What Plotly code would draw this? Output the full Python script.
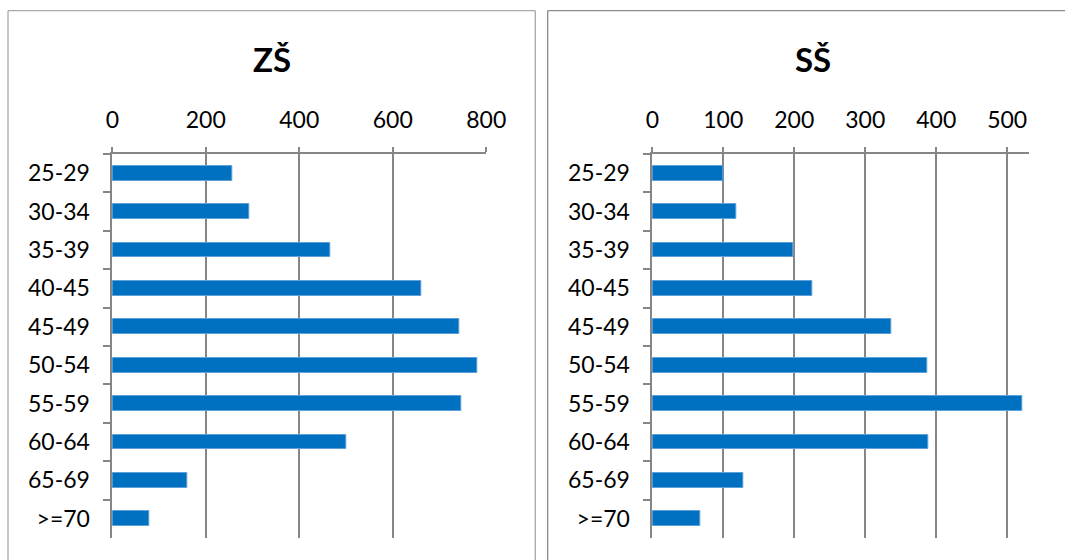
import plotly.graph_objects as go

# Age groups and teacher counts per school type
age_groups = ["25-29", "30-34", "35-39", "40-45", "45-49",
              "50-54", "55-59", "60-64", "65-69", ">=70"]
zs_counts = [257, 294, 467, 660, 743, 780, 747, 500, 160, 79]
ss_counts = [100, 119, 198, 225, 336, 387, 521, 389, 128, 67]

zs_ticks = [0, 200, 400, 600, 800]
ss_ticks = [0, 100, 200, 300, 400, 500]

W, H = 1065, 560
BAR = "#0070C0"
GRID = "#868686"
FONT = "Lato"


def px(x):
    return x / W


def py(y):
    return 1 - y / H


fig = go.Figure()

fig.add_trace(go.Bar(
    x=zs_counts, y=age_groups, orientation="h", width=0.39,
    marker=dict(color=BAR, line=dict(color="#5FA0DA", width=1)),
    xaxis="x", yaxis="y", showlegend=False,
))
fig.add_trace(go.Bar(
    x=ss_counts, y=age_groups, orientation="h", width=0.39,
    marker=dict(color=BAR, line=dict(color="#5FA0DA", width=1)),
    xaxis="x2", yaxis="y2", showlegend=False,
))

y_top, y_bot = py(154), py(538)

xaxis_common = dict(
    side="top", showgrid=True, gridcolor=GRID, gridwidth=1.5,
    showline=True, linecolor=GRID, linewidth=1.5,
    ticks="outside", ticklen=5, tickcolor=GRID, tickwidth=1.5,
    tickfont=dict(family=FONT, size=23, color="#000000"),
    ticklabelstandoff=10, zeroline=False, fixedrange=True,
    automargin=False,
)
yaxis_common = dict(
    type="category", categoryorder="array", categoryarray=age_groups,
    autorange="reversed", showgrid=False, tickson="boundaries",
    showline=True, linecolor=GRID, linewidth=1.5,
    ticks="outside", ticklen=8, tickcolor=GRID, tickwidth=1.5,
    tickfont=dict(family=FONT, size=23, color="#000000"),
    ticklabelstandoff=16, fixedrange=True, automargin=False,
)

fig.update_layout(
    width=W, height=H, autosize=False,
    margin=dict(l=0, r=0, t=0, b=0, pad=0),
    paper_bgcolor="white", plot_bgcolor="white",
    bargap=0,
    xaxis=dict(xaxis_common, domain=[px(112.3), px(486.3)], range=[0, 800],
               tickvals=zs_ticks, anchor="y"),
    yaxis=dict(yaxis_common, domain=[y_bot, y_top], anchor="x"),
    xaxis2=dict(xaxis_common, domain=[px(652.3), px(1028.5)], range=[0, 530],
                tickvals=ss_ticks, anchor="y2"),
    yaxis2=dict(yaxis_common, domain=[y_bot, y_top], anchor="x2"),
)

# Panel titles
for text, cx in (("ZŠ", 271.5), ("SŠ", 813)):
    fig.add_annotation(
        text=f"<b>{text}</b>", x=px(cx), y=py(59), xref="paper", yref="paper",
        xanchor="center", yanchor="middle", showarrow=False,
        font=dict(family=FONT, size=33, color="#000000"),
    )

# Panel frames
frame_left = "#A8A8A8"
frame_right = "#8A8A8A"
lines = [
    (8, 10.7, 535.3, 10.7, frame_left),
    (8, 10.7, 8, 600, frame_left),
    (535.3, 10.7, 535.3, 600, frame_left),
    (547.7, 10.7, 1100, 10.7, frame_right),
    (547.7, 10.7, 547.7, 600, frame_right),
]
for x0, y0, x1, y1, c in lines:
    fig.add_shape(type="line", xref="paper", yref="paper",
                  x0=px(x0), y0=py(y0), x1=px(x1), y1=py(y1),
                  line=dict(color=c, width=1.3))

fig.write_html("out.html")
